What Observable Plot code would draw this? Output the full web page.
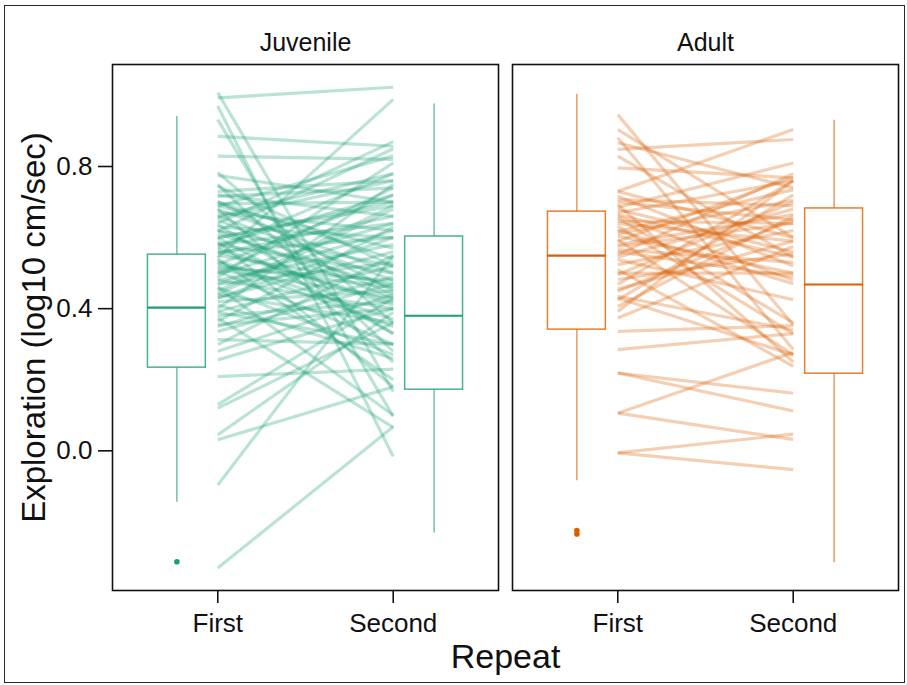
<!DOCTYPE html>
<html>
<head>
<meta charset="utf-8">
<script src="https://cdn.jsdelivr.net/npm/d3@7"></script>
<script src="https://cdn.jsdelivr.net/npm/@observablehq/plot@0.6"></script>
<style>
  body { margin: 0; background: #fff; font-family: "Liberation Sans", Arial, sans-serif; }
  #wrap { position: relative; width: 907px; height: 685px; }
  #border { position: absolute; left: 4px; top: 5px; width: 899px; height: 676px; border: 1.5px solid #2a2a2a; pointer-events: none; }
</style>
</head>
<body>
<div id="wrap"><div id="border"></div></div>
<script>
// Age groups, repeat labels and group colours
const groups = ["Juvenile", "Adult"];
const repeats = ["First", "Second"];
const groupColors = ["#1b9e77", "#d95f02"];

// Individual exploration scores (log10 cm/sec), first and second trial
const juvenileFirst = [0.993, 1.008, 0.970, 0.932, 0.885, 0.829, 0.783, 0.775, 0.749, 0.730,
  0.716, 0.702, 0.695, 0.688, 0.680, 0.670, 0.656, 0.650, 0.637, 0.630,
  0.618, 0.610, 0.599, 0.590, 0.580, 0.570, 0.561, 0.555, 0.543, 0.535,
  0.524, 0.515, 0.505, 0.497, 0.487, 0.480, 0.468, 0.460, 0.449, 0.440,
  0.430, 0.420, 0.411, 0.400, 0.392, 0.380, 0.374, 0.364, 0.355, 0.336,
  0.313, 0.299, 0.280, 0.256, 0.209, 0.130, 0.120, 0.045, 0.031, -0.096,
  -0.330, 0.720, 0.700, 0.660, 0.640, 0.620, 0.600, 0.580, 0.560, 0.540,
  0.520, 0.500, 0.480, 0.460, 0.440, 0.580, 0.680, 0.620, 0.660, 0.530,
  0.470, 0.550, 0.690, 0.430, 0.350, 0.390, 0.600, 0.745, 0.510, 0.570];
const juvenileSecond = [1.023, 0.167, -0.016, 0.097, 0.857, 0.820, 0.360, 0.700, 0.280, 0.760,
  0.740, 0.450, 0.700, 0.830, 0.250, 0.620, 0.760, 0.440, 0.330, 0.600,
  0.850, 0.460, 0.700, 0.180, 0.500, 0.780, 0.420, 0.660, 0.989, 0.370,
  0.720, 0.480, 0.300, 0.640, 0.810, 0.400, 0.530, 0.100, 0.690, 0.360,
  0.600, 0.450, 0.260, 0.750, 0.520, 0.420, 0.066, 0.630, 0.400, 0.470,
  0.300, 0.550, 0.440, 0.400, 0.230, 0.430, 0.360, 0.390, 0.180, 0.550,
  0.068, 0.660, 0.540, 0.480, 0.870, 0.520, 0.330, 0.720, 0.600, 0.200,
  0.460, 0.740, 0.580, 0.270, 0.680, 0.640, 0.500, 0.430, 0.780, 0.350,
  0.620, 0.470, 0.570, 0.560, 0.490, 0.300, 0.690, 0.520, 0.430, 0.410];
const adultFirst = [0.946, 0.904, 0.881, 0.867, 0.848, 0.829, 0.796, 0.730, 0.716, 0.707,
  0.693, 0.679, 0.670, 0.660, 0.646, 0.632, 0.618, 0.604, 0.594, 0.580,
  0.566, 0.552, 0.538, 0.524, 0.510, 0.496, 0.482, 0.468, 0.449, 0.435,
  0.425, 0.406, 0.392, 0.374, 0.336, 0.285, 0.219, 0.219, 0.106, 0.106,
  -0.006, -0.006, 0.640, 0.620, 0.700, 0.575, 0.655, 0.545, 0.590, 0.430,
  0.500, 0.665, 0.610, 0.560, 0.730, 0.455, 0.685];
const adultSecond = [0.355, 0.600, 0.285, 0.740, 0.876, 0.545, 0.768, 0.904, 0.520, 0.690,
  0.250, 0.560, 0.760, 0.480, 0.640, 0.330, 0.735, 0.500, 0.270, 0.665,
  0.530, 0.780, 0.425, 0.620, 0.238, 0.700, 0.555, 0.760, 0.650, 0.340,
  0.720, 0.660, 0.760, 0.575, 0.352, 0.330, 0.162, 0.112, 0.277, 0.032,
  0.047, -0.053, 0.590, 0.470, 0.650, 0.640, 0.360, 0.680, 0.770, 0.270,
  0.500, 0.545, 0.705, 0.490, 0.600, 0.590, 0.810];

// Box-plot summaries per group and repeat
const boxGroup  = ["Juvenile", "Juvenile", "Adult", "Adult"];
const boxRepeat = ["First", "Second", "First", "Second"];
const boxLow    = [-0.145, -0.231, -0.084, -0.315];
const boxQ1     = [0.234, 0.172, 0.341, 0.217];
const boxMedian = [0.403, 0.380, 0.549, 0.468];
const boxQ3     = [0.552, 0.603, 0.673, 0.682];
const boxHigh   = [0.941, 0.976, 1.003, 0.930];

// Outlying first-trial scores
const outlierGroup = ["Juvenile", "Adult", "Adult"];
const outlierValue = [-0.312, -0.224, -0.234];

// Horizontal placement: lines at the repeat ticks, boxes set outside them
const linePos = {First: 1, Second: 2};
const boxPos = {First: 0.767, Second: 2.233};
const boxHalf = 0.165;

const pairs = [];
[[juvenileFirst, juvenileSecond], [adultFirst, adultSecond]].forEach(([f, s], gi) => {
  f.forEach((v, i) => pairs.push({group: groups[gi], first: v, second: s[i]}));
});
const boxes = boxGroup.map((g, i) => ({
  group: g, repeat: boxRepeat[i], lo: boxLow[i], q1: boxQ1[i],
  med: boxMedian[i], q3: boxQ3[i], hi: boxHigh[i]
}));
const outliers = outlierGroup.map((g, i) => ({group: g, value: outlierValue[i]}));

const font = '"Liberation Sans", Arial, sans-serif';

const chart = Plot.plot({
  width: 907,
  height: 685,
  marginLeft: 111,
  marginRight: 8,
  marginTop: 64,
  marginBottom: 95,
  style: {fontFamily: font, background: "transparent", color: "#111"},
  fx: {domain: groups, paddingInner: 0.0349, paddingOuter: 0, axis: null, label: null},
  x: {domain: [0.4, 2.6], axis: null},
  y: {domain: [-0.393, 1.087], axis: null},
  color: {domain: groups, range: groupColors},
  marks: [
    Plot.link(pairs, {
      fx: "group",
      x1: () => linePos.First, x2: () => linePos.Second,
      y1: "first", y2: "second",
      stroke: "group", strokeWidth: 3.2, strokeOpacity: 0.3
    }),
    Plot.ruleX(boxes, {fx: "group", x: d => boxPos[d.repeat], y1: "q3", y2: "hi", stroke: "group", strokeWidth: 1.1, strokeOpacity: 0.85}),
    Plot.ruleX(boxes, {fx: "group", x: d => boxPos[d.repeat], y1: "lo", y2: "q1", stroke: "group", strokeWidth: 1.1, strokeOpacity: 0.85}),
    Plot.rect(boxes, {
      fx: "group",
      x1: d => boxPos[d.repeat] - boxHalf, x2: d => boxPos[d.repeat] + boxHalf,
      y1: "q1", y2: "q3",
      fill: "white", stroke: "group", strokeWidth: 1.5, strokeOpacity: 0.8
    }),
    Plot.ruleY(boxes, {
      fx: "group",
      x1: d => boxPos[d.repeat] - boxHalf, x2: d => boxPos[d.repeat] + boxHalf,
      y: "med", stroke: "group", strokeWidth: 2.2
    }),
    Plot.dot(outliers, {fx: "group", x: () => boxPos.First, y: "value", r: 2.8, fill: "group", stroke: "none"}),
    Plot.frame({stroke: "#111", strokeWidth: 1.6}),
    Plot.axisX({
      ticks: [linePos.First, linePos.Second],
      tickFormat: d => repeats[d - 1],
      tickSize: 13, tickPadding: 10, fontSize: 26, strokeWidth: 1.6, label: null
    }),
    Plot.axisY({
      ticks: [0, 0.4, 0.8],
      tickFormat: d3.format(".1f"),
      tickSize: 14, tickPadding: 6, fontSize: 26, strokeWidth: 1.6, label: null
    }),
    Plot.text(groups, {fx: d => d, text: d => d, frameAnchor: "top", lineAnchor: "middle", dy: -22, fontSize: 25, fill: "#111"}),
    Plot.text(["Repeat"], {facet: "super", text: d => d, frameAnchor: "bottom", lineAnchor: "middle", dy: 67, fontSize: 34, fill: "#111"}),
    Plot.text(["Exploration (log10 cm/sec)"], {facet: "super", text: d => d, frameAnchor: "left", textAnchor: "middle", lineAnchor: "middle", dx: -78, rotate: -90, fontSize: 33, fill: "#111"})
  ]
});

document.getElementById("wrap").prepend(chart);
</script>
</body>
</html>
